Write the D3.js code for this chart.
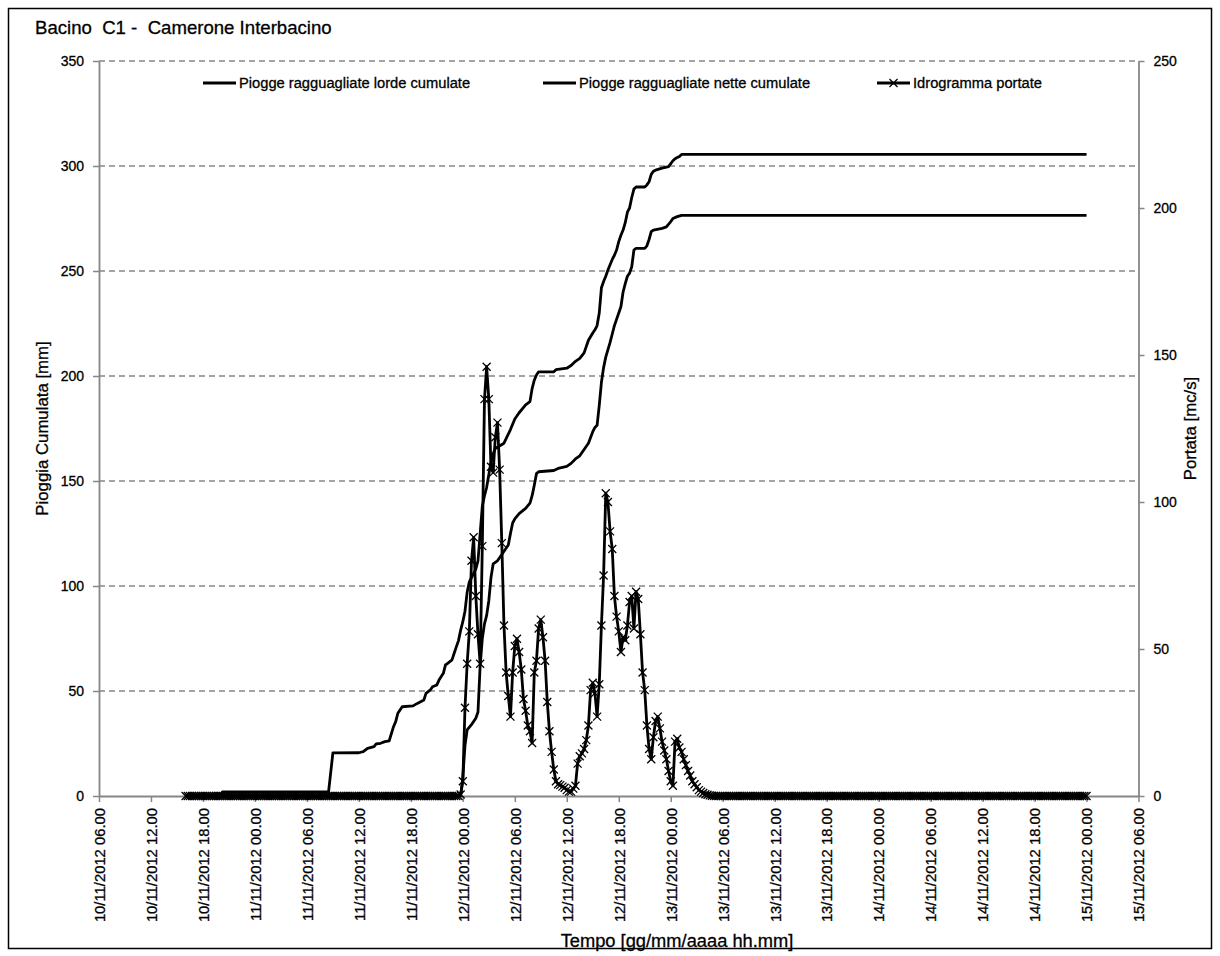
<!DOCTYPE html>
<html><head><meta charset="utf-8">
<script src="https://cdn.jsdelivr.net/npm/d3@7"></script>
<style>
body{margin:0;background:#fff}
svg{display:block}
text{font-family:"Liberation Sans",Arial,sans-serif;fill:#000;stroke:#000;stroke-width:0.3px;white-space:pre}
</style>
</head><body>
<svg id="chart" width="1220" height="956"></svg>
<script>
// ---------------- DATA ----------------
const chartTitle = "Bacino  C1 -  Camerone Interbacino";
const leftTitle = "Pioggia Cumulata [mm]";
const rightTitle = "Portata [mc/s]";
const xTitle = "Tempo [gg/mm/aaaa hh.mm]";
const seriesNames = ["Piogge ragguagliate lorde cumulate", "Piogge ragguagliate nette cumulate", "Idrogramma portate"];

const xTickLabels = [
  "10/11/2012 06.00","10/11/2012 12.00","10/11/2012 18.00",
  "11/11/2012 00.00","11/11/2012 06.00","11/11/2012 12.00","11/11/2012 18.00",
  "12/11/2012 00.00","12/11/2012 06.00","12/11/2012 12.00","12/11/2012 18.00",
  "13/11/2012 00.00","13/11/2012 06.00","13/11/2012 12.00","13/11/2012 18.00",
  "14/11/2012 00.00","14/11/2012 06.00","14/11/2012 12.00","14/11/2012 18.00",
  "15/11/2012 00.00","15/11/2012 06.00"
];
const leftTicks = [0, 50, 100, 150, 200, 250, 300, 350];
const rightTicks = [0, 50, 100, 150, 200, 250];

// cumulative gross areal rainfall [mm] (time, value)
const grossRain = [
  ["10/11/2012 16.00", 0], ["10/11/2012 20.00", 0], ["10/11/2012 20.15", 2],
  ["11/11/2012 08.30", 2], ["11/11/2012 09.00", 20.5], ["11/11/2012 12.00", 20.6],
  ["11/11/2012 12.30", 21.1], ["11/11/2012 13.00", 22.7], ["11/11/2012 13.45", 23.5],
  ["11/11/2012 14.00", 24.8], ["11/11/2012 14.30", 25.1], ["11/11/2012 15.00", 25.9],
  ["11/11/2012 15.30", 26.3], ["11/11/2012 16.00", 33], ["11/11/2012 16.15", 35.4],
  ["11/11/2012 16.30", 39.4], ["11/11/2012 17.00", 42.5], ["11/11/2012 18.15", 42.9],
  ["11/11/2012 18.45", 44.1], ["11/11/2012 19.30", 45.7], ["11/11/2012 19.45", 48.9],
  ["11/11/2012 20.15", 50.5], ["11/11/2012 20.30", 52], ["11/11/2012 21.00", 52.9],
  ["11/11/2012 21.15", 55.2], ["11/11/2012 21.45", 58.4], ["11/11/2012 22.00", 62.4],
  ["11/11/2012 22.15", 63.2], ["11/11/2012 22.45", 64.8], ["11/11/2012 23.00", 68],
  ["11/11/2012 23.15", 71], ["11/11/2012 23.30", 74], ["11/11/2012 23.45", 79],
  ["12/11/2012 00.00", 83], ["12/11/2012 00.15", 88], ["12/11/2012 00.30", 97],
  ["12/11/2012 00.45", 102], ["12/11/2012 01.00", 104], ["12/11/2012 01.15", 106],
  ["12/11/2012 01.30", 108], ["12/11/2012 01.45", 112], ["12/11/2012 02.00", 125],
  ["12/11/2012 02.15", 138], ["12/11/2012 02.30", 143], ["12/11/2012 02.45", 147],
  ["12/11/2012 03.00", 153], ["12/11/2012 03.15", 159], ["12/11/2012 03.30", 163],
  ["12/11/2012 03.45", 165.5], ["12/11/2012 04.45", 168], ["12/11/2012 05.30", 174.5],
  ["12/11/2012 06.00", 179.5], ["12/11/2012 06.30", 182.5], ["12/11/2012 07.15", 186.3],
  ["12/11/2012 07.45", 187.8], ["12/11/2012 08.00", 194], ["12/11/2012 08.15", 198],
  ["12/11/2012 08.30", 200.5], ["12/11/2012 08.45", 202], ["12/11/2012 10.30", 202],
  ["12/11/2012 10.45", 203], ["12/11/2012 12.00", 203.7], ["12/11/2012 12.30", 205],
  ["12/11/2012 13.00", 207], ["12/11/2012 13.30", 208.4], ["12/11/2012 14.00", 211],
  ["12/11/2012 14.30", 217], ["12/11/2012 15.00", 220.5], ["12/11/2012 15.15", 222],
  ["12/11/2012 15.30", 224], ["12/11/2012 15.45", 230], ["12/11/2012 16.00", 242],
  ["12/11/2012 16.15", 245], ["12/11/2012 16.30", 247.5], ["12/11/2012 16.45", 250.5],
  ["12/11/2012 17.00", 253], ["12/11/2012 17.15", 255.5], ["12/11/2012 17.30", 257.5],
  ["12/11/2012 17.45", 260], ["12/11/2012 18.00", 264], ["12/11/2012 18.15", 267],
  ["12/11/2012 18.30", 269.5], ["12/11/2012 18.45", 273], ["12/11/2012 19.00", 278],
  ["12/11/2012 19.15", 280], ["12/11/2012 19.30", 285], ["12/11/2012 19.45", 289],
  ["12/11/2012 20.00", 290], ["12/11/2012 21.00", 290], ["12/11/2012 21.15", 291],
  ["12/11/2012 21.30", 292.5], ["12/11/2012 21.45", 296], ["12/11/2012 22.00", 297.5],
  ["12/11/2012 22.15", 298], ["12/11/2012 23.00", 299], ["12/11/2012 23.45", 299.7],
  ["13/11/2012 00.15", 302.5], ["13/11/2012 00.30", 303.5], ["13/11/2012 00.45", 304],
  ["13/11/2012 01.00", 304.5], ["13/11/2012 01.15", 305.5], ["15/11/2012 00.00", 305.5]
];

// cumulative net areal rainfall [mm] (time, value)
const netRain = [
  ["10/11/2012 16.00", 0], ["11/11/2012 23.45", 0], ["12/11/2012 00.00", 9],
  ["12/11/2012 00.15", 24], ["12/11/2012 00.30", 31.5], ["12/11/2012 01.00", 34],
  ["12/11/2012 01.30", 37], ["12/11/2012 01.45", 40], ["12/11/2012 02.00", 62],
  ["12/11/2012 02.15", 75], ["12/11/2012 02.30", 82], ["12/11/2012 02.45", 86],
  ["12/11/2012 03.00", 93], ["12/11/2012 03.15", 104], ["12/11/2012 03.30", 110.5],
  ["12/11/2012 04.00", 112], ["12/11/2012 04.30", 115], ["12/11/2012 05.15", 119.5],
  ["12/11/2012 05.30", 125], ["12/11/2012 05.45", 130], ["12/11/2012 06.00", 132],
  ["12/11/2012 06.30", 134.5], ["12/11/2012 07.15", 137], ["12/11/2012 07.45", 139.5],
  ["12/11/2012 08.00", 143], ["12/11/2012 08.15", 148], ["12/11/2012 08.30", 153.5],
  ["12/11/2012 08.45", 154.4], ["12/11/2012 10.30", 155], ["12/11/2012 11.00", 156],
  ["12/11/2012 12.00", 157], ["12/11/2012 12.30", 158.4], ["12/11/2012 13.00", 160.5],
  ["12/11/2012 13.30", 162], ["12/11/2012 14.00", 165], ["12/11/2012 14.30", 168],
  ["12/11/2012 15.00", 173.5], ["12/11/2012 15.15", 175.5], ["12/11/2012 15.30", 176.5],
  ["12/11/2012 15.45", 186], ["12/11/2012 16.00", 197], ["12/11/2012 16.15", 204],
  ["12/11/2012 16.30", 209], ["12/11/2012 17.00", 216], ["12/11/2012 17.15", 220],
  ["12/11/2012 17.30", 224], ["12/11/2012 18.00", 230], ["12/11/2012 18.15", 233],
  ["12/11/2012 18.30", 240], ["12/11/2012 18.45", 244], ["12/11/2012 19.00", 247.5],
  ["12/11/2012 19.15", 249], ["12/11/2012 19.30", 252], ["12/11/2012 19.45", 260],
  ["12/11/2012 20.00", 260.8], ["12/11/2012 21.00", 260.8], ["12/11/2012 21.15", 262],
  ["12/11/2012 21.30", 265], ["12/11/2012 21.45", 268.7], ["12/11/2012 22.00", 269.5],
  ["12/11/2012 23.00", 270.3], ["12/11/2012 23.30", 271], ["13/11/2012 00.00", 273.5],
  ["13/11/2012 00.15", 275], ["13/11/2012 00.45", 275.9], ["13/11/2012 01.15", 276.5],
  ["15/11/2012 00.00", 276.5]
];

// discharge hydrograph [m3/s], one value every 15 minutes from flowStart
const flowStart = "10/11/2012 16.00";
const flowStepMinutes = 15;
const flowValues = [
  0,0,0,0,0,0,0,0,0,0,0,0,0,0,0,0,0,0,0,0,
  0,0,0,0,0,0,0,0,0,0,0,0,0,0,0,0,0,0,0,0,
  0,0,0,0,0,0,0,0,0,0,0,0,0,0,0,0,0,0,0,0,
  0,0,0,0,0,0,0,0,0,0,0,0,0,0,0,0,0,0,0,0,
  0,0,0,0,0,0,0,0,0,0,0,0,0,0,0,0,0,0,0,0,
  0,0,0,0,0,0,0,0,0,0,0,0,0,0,0,0,0,0,0,0,
  0,0,0,0,0,0,0,0.5,
  5,30,45,56,80,88,68,55,45,85,135,146,135,112,110,122,127,111,86,58,
  42,34,27,42,51,53.5,49,43,33,29,24,22,18,42,46,57,60,54,46,32,
  22,15,9,5,4,3.7,3.2,2.8,2,1.5,1.5,2.5,3.5,11,13.5,14.5,16,19,24,36,
  38.5,35,27,38,58,75,103,100,90,84,68,61,56,49,54,53,58,66,68,57,
  69.5,67,55,42,36,24,16,12.5,20,25.5,27,23,18.5,15.5,12.5,8.5,5,3.5,18.5,19.5,
  16.5,15,12.5,10.5,8.5,7,5,4,3,2,1.5,1,0.6,0.4,0.2,0.1,0,
  0,0,0,0,0,0,0,0,0,0,0,0,0,0,0,0,0,0,0,0,
  0,0,0,0,0,0,0,0,0,0,0,0,0,0,0,0,0,0,0,0,
  0,0,0,0,0,0,0,0,0,0,0,0,0,0,0,0,0,0,0,0,
  0,0,0,0,0,0,0,0,0,0,0,0,0,0,0,0,0,0,0,0,
  0,0,0,0,0,0,0,0,0,0,0,0,0,0,0,0,0,0,0,0,
  0,0,0,0,0,0,0,0,0,0,0,0,0,0,0,0,0,0,0,0,
  0,0,0,0,0,0,0,0,0,0,0,0,0,0,0,0,0,0,0,0,
  0,0,0,0,0,0,0,0,0,0,0,0,0,0,0,0,0,0,0,0,
  0,0,0,0,0,0,0,0,0,0,0,0
];

// ---------------- CHART ----------------
const parse = d3.timeParse("%d/%m/%Y %H.%M");
const fmt = d3.timeFormat("%d/%m/%Y %H.%M");
const L = 99, R = 1138.5, T = 61, B = 796;
const axisColor = "#868686";

const svg = d3.select("#chart");
svg.append("rect").attr("x", 0).attr("y", 0).attr("width", 1220).attr("height", 956).attr("fill", "#fff");
svg.append("rect").attr("x", 8.5).attr("y", 8.5).attr("width", 1203).attr("height", 940)
  .attr("fill", "none").attr("stroke", "#000").attr("stroke-width", 1.5);

const x = d3.scaleTime()
  .domain([parse(xTickLabels[0]), parse(xTickLabels[xTickLabels.length - 1])])
  .range([L, R]);
const yL = d3.scaleLinear().domain([0, 350]).range([B, T]);
const yR = d3.scaleLinear().domain([0, 250]).range([B, T]);

// gridlines
svg.append("g").selectAll("line").data(leftTicks.filter(d => d > 0)).join("line")
  .attr("x1", L).attr("x2", R).attr("y1", d => yL(d)).attr("y2", d => yL(d))
  .attr("stroke", axisColor).attr("stroke-width", 1.3).attr("stroke-dasharray", "6,4");

function styleAxis(g) {
  g.select(".domain").attr("stroke", axisColor).attr("stroke-width", 1.8);
  g.selectAll(".tick line").attr("stroke", axisColor).attr("stroke-width", 1.5);
  g.selectAll(".tick text").attr("fill", "#000");
}

// x axis
const gx = svg.append("g").attr("transform", `translate(0,${B})`)
  .call(d3.axisBottom(x).tickValues(xTickLabels.map(parse)).tickFormat(fmt).tickSize(6).tickSizeOuter(0));
styleAxis(gx);
gx.selectAll(".tick text")
  .attr("font-size", "14.8px")
  .attr("transform", "rotate(-90)")
  .attr("text-anchor", "end")
  .attr("x", -12).attr("y", 0).attr("dy", "0.36em");

// left axis
const gl = svg.append("g").attr("transform", `translate(${L},0)`)
  .call(d3.axisLeft(yL).tickValues(leftTicks).tickSize(6).tickSizeOuter(0).tickPadding(9));
styleAxis(gl);
gl.selectAll(".tick text").attr("font-size", "14px");

// right axis
const gr = svg.append("g").attr("transform", `translate(${R},0)`)
  .call(d3.axisRight(yR).tickValues(rightTicks).tickSize(6).tickSizeOuter(0).tickPadding(9));
styleAxis(gr);
gr.selectAll(".tick text").attr("font-size", "14px");

// series
const grossData = grossRain.map(d => ({ t: parse(d[0]), v: d[1] }));
const netData = netRain.map(d => ({ t: parse(d[0]), v: d[1] }));
const t0 = parse(flowStart);
const flowData = flowValues.map((v, i) => ({ t: d3.timeMinute.offset(t0, i * flowStepMinutes), v }));

const lineL = d3.line().x(d => x(d.t)).y(d => yL(d.v));
const lineR = d3.line().x(d => x(d.t)).y(d => yR(d.v));

svg.append("path").datum(grossData).attr("d", lineL)
  .attr("fill", "none").attr("stroke", "#000").attr("stroke-width", 2.8).attr("stroke-linejoin", "round");
svg.append("path").datum(netData).attr("d", lineL)
  .attr("fill", "none").attr("stroke", "#000").attr("stroke-width", 2.8).attr("stroke-linejoin", "round");
svg.append("path").datum(flowData).attr("d", lineR)
  .attr("fill", "none").attr("stroke", "#000").attr("stroke-width", 2.8).attr("stroke-linejoin", "round");

const xMark = "M-4,-4L4,4M-4,4L4,-4";
svg.append("g").selectAll("path").data(flowData).join("path")
  .attr("transform", d => `translate(${x(d.t)},${yR(d.v)})`)
  .attr("d", xMark).attr("fill", "none").attr("stroke", "#000").attr("stroke-width", 1.3);

// legend
const legendItems = [
  { name: seriesNames[0], x1: 203, marker: false },
  { name: seriesNames[1], x1: 543, marker: false },
  { name: seriesNames[2], x1: 877, marker: true }
];
const legY = 83;
const lg = svg.append("g");
legendItems.forEach(it => {
  lg.append("line").attr("x1", it.x1).attr("x2", it.x1 + 33).attr("y1", legY).attr("y2", legY)
    .attr("stroke", "#000").attr("stroke-width", 2.8);
  if (it.marker) {
    lg.append("path").attr("transform", `translate(${it.x1 + 16.5},${legY})`).attr("d", xMark)
      .attr("fill", "none").attr("stroke", "#000").attr("stroke-width", 1.3);
  }
  lg.append("text").attr("x", it.x1 + 36).attr("y", legY).attr("dy", "0.35em")
    .attr("font-size", "14.7px").text(it.name);
});

// titles
svg.append("text").attr("x", 35).attr("y", 27).attr("dy", "0.35em").attr("font-size", "18.6px").text(chartTitle);
svg.append("text").attr("transform", `translate(42,${(T + B) / 2}) rotate(-90)`).attr("text-anchor", "middle")
  .attr("dy", "0.35em").attr("font-size", "16.8px").text(leftTitle);
svg.append("text").attr("transform", `translate(1190,${(T + B) / 2}) rotate(-90)`).attr("text-anchor", "middle")
  .attr("dy", "0.35em").attr("font-size", "16.8px").text(rightTitle);
svg.append("text").attr("x", 677).attr("y", 941).attr("text-anchor", "middle").attr("dy", "0.35em")
  .attr("font-size", "18.3px").text(xTitle);
</script>
</body></html>
